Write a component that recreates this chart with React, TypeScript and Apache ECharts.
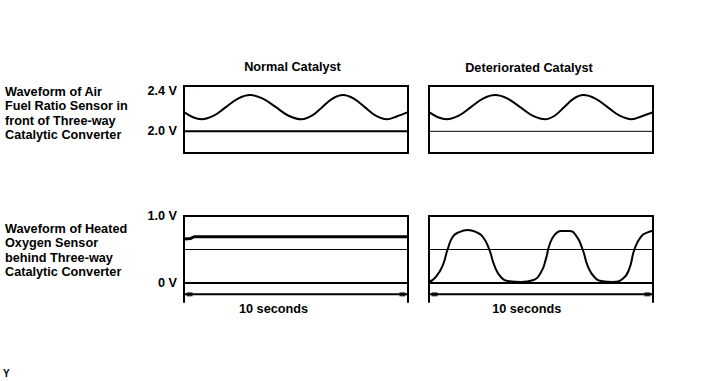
import React, { useEffect, useRef } from "react";
import * as echarts from "echarts";

// ---- texts ----
const panelTitles = ["Normal Catalyst", "Deteriorated Catalyst"];
const rowLabels = [
  "Waveform of Air\nFuel Ratio Sensor in\nfront of Three-way\nCatalytic Converter",
  "Waveform of Heated\nOxygen Sensor\nbehind Three-way\nCatalytic Converter",
];
const timeLabel = "10 seconds";
const cornerMark = "Y";

// ---- tick labels ----
const afTicks = [2.0, 2.4];
const afTickLabels = ["2.0 V", "2.4 V"];
const o2Ticks = [0, 1.0];
const o2TickLabels = ["0 V", "1.0 V"];

// ---- data (time in s, voltage in V) ----
const afNormalTime = [0, 0.4, 0.79, 1.33, 1.87, 2.41, 2.95, 3.52, 4.1, 4.67, 5.25, 5.71, 6.17, 6.63, 7.1, 7.58, 8.07, 8.56, 9.05, 9.52, 10];
const afNormalVolt = [2.19, 2.14, 2.12, 2.155, 2.24, 2.325, 2.36, 2.325, 2.24, 2.155, 2.12, 2.155, 2.24, 2.325, 2.36, 2.325, 2.24, 2.155, 2.12, 2.15, 2.19];
const afDetTime = [0, 0.4, 0.79, 1.33, 1.87, 2.41, 2.95, 3.51, 4.07, 4.62, 5.18, 5.61, 6.03, 6.46, 6.89, 7.43, 7.97, 8.51, 9.05, 9.5, 10];
const afDetVolt = [2.19, 2.14, 2.12, 2.155, 2.24, 2.325, 2.36, 2.325, 2.24, 2.155, 2.12, 2.155, 2.24, 2.325, 2.36, 2.325, 2.24, 2.155, 2.12, 2.15, 2.19];

const o2NormalTime = [0, 0.3, 0.45, 10];
const o2NormalVolt = [0.655, 0.665, 0.69, 0.69];
const o2DetTime = [0.01, 0.31, 0.61, 0.83, 1.06, 1.35, 1.73, 2.1, 2.4, 2.69, 2.92, 3.21, 3.58, 4.11, 4.63, 5.0, 5.22, 5.37, 5.59, 5.89, 6.26, 6.56, 6.86, 7.08, 7.38, 7.75, 8.2, 8.65, 8.94, 9.17, 9.46, 9.79, 10];
const o2DetVolt = [0.015, 0.09, 0.26, 0.5, 0.69, 0.76, 0.79, 0.76, 0.69, 0.5, 0.26, 0.09, 0.025, 0.015, 0.04, 0.16, 0.36, 0.56, 0.71, 0.776, 0.776, 0.71, 0.5, 0.26, 0.09, 0.025, 0.015, 0.064, 0.21, 0.5, 0.69, 0.76, 0.776];

const afRefLevel = 2.0;
const o2RefLevel = 0.5;
const spanTime = [0, 10];
const spanMarks = [0.25, 9.75];
const spanLevel = -0.17;

const FONT = '"Liberation Sans", Arial, Helvetica, sans-serif';
const FS = 12.7;

const zip = (t: number[], v: number[]) => t.map((x, i) => [x, v[i]]);
const labelFor = (ticks: number[], labels: string[]) => (val: number) => {
  const i = ticks.findIndex((t) => Math.abs(t - val) < 1e-6);
  return i >= 0 ? labels[i] : "";
};

export default function App() {
  const ref = useRef<HTMLDivElement>(null);
  useEffect(() => {
    if (!ref.current) return;
    const chart = echarts.init(ref.current, undefined, { renderer: "svg" });

    const boxW = 224;
    const lefts = [184, 429];
    const grids = [
      { left: lefts[0], top: 86, width: boxW, height: 67, show: true, borderColor: "#000", borderWidth: 2 },
      { left: lefts[1], top: 86, width: boxW, height: 67, show: true, borderColor: "#000", borderWidth: 2 },
      { left: lefts[0], top: 216, width: boxW, height: 86 },
      { left: lefts[1], top: 216, width: boxW, height: 86 },
    ];

    const hiddenX = (gi: number) => ({
      type: "value", gridIndex: gi, min: 0, max: 10,
      axisLine: { show: false }, axisTick: { show: false }, axisLabel: { show: false }, splitLine: { show: false },
    });
    const xAxes: any[] = [
      hiddenX(0),
      hiddenX(1),
      { ...hiddenX(2), axisLine: { show: true, onZero: true, lineStyle: { color: "#000", width: 2 } } },
      { ...hiddenX(3), axisLine: { show: true, onZero: true, lineStyle: { color: "#000", width: 2 } } },
      { ...hiddenX(2), position: "top", axisLine: { show: true, onZero: false, lineStyle: { color: "#000", width: 2 } } },
      { ...hiddenX(3), position: "top", axisLine: { show: true, onZero: false, lineStyle: { color: "#000", width: 2 } } },
    ];

    const afMin = 1.785, afMax = 2.45;
    const o2Min = -0.284, o2Max = 1.0;
    const labelStyle = { color: "#000", fontSize: FS, fontFamily: FONT, fontWeight: "bold", margin: 7 };
    const yAxes: any[] = [
      {
        type: "value", gridIndex: 0, min: afMin, max: afMax,
        axisLine: { show: false }, axisTick: { show: false }, splitLine: { show: false },
        axisLabel: { show: true, customValues: afTicks, formatter: labelFor(afTicks, afTickLabels), ...labelStyle },
      },
      {
        type: "value", gridIndex: 1, min: afMin, max: afMax,
        axisLine: { show: false }, axisTick: { show: false }, splitLine: { show: false }, axisLabel: { show: false },
      },
      {
        type: "value", gridIndex: 2, min: o2Min, max: o2Max,
        axisLine: { show: true, onZero: false, lineStyle: { color: "#000", width: 2 } },
        axisTick: { show: false }, splitLine: { show: false },
        axisLabel: { show: true, customValues: o2Ticks, formatter: labelFor(o2Ticks, o2TickLabels), ...labelStyle },
      },
      {
        type: "value", gridIndex: 3, min: o2Min, max: o2Max,
        axisLine: { show: true, onZero: false, lineStyle: { color: "#000", width: 2 } },
        axisTick: { show: false }, splitLine: { show: false }, axisLabel: { show: false },
      },
      {
        type: "value", gridIndex: 2, min: o2Min, max: o2Max, position: "right",
        axisLine: { show: true, onZero: false, lineStyle: { color: "#000", width: 2 } },
        axisTick: { show: false }, splitLine: { show: false }, axisLabel: { show: false },
      },
      {
        type: "value", gridIndex: 3, min: o2Min, max: o2Max, position: "right",
        axisLine: { show: true, onZero: false, lineStyle: { color: "#000", width: 2 } },
        axisTick: { show: false }, splitLine: { show: false }, axisLabel: { show: false },
      },
    ];

    const line = (xi: number, yi: number, data: number[][], width: number, smooth: any = false) => ({
      type: "line", xAxisIndex: xi, yAxisIndex: yi, data, smooth, showSymbol: false, symbol: "none",
      lineStyle: { color: "#000", width }, silent: true, z: 3,
    });
    const marks = (xi: number, yi: number) => ({
      type: "scatter", xAxisIndex: xi, yAxisIndex: yi, symbol: "rect", symbolSize: [6, 4],
      itemStyle: { color: "#000" }, data: spanMarks.map((t) => [t, spanLevel]), silent: true, z: 4,
    });

    const series: any[] = [
      line(0, 0, zip(afNormalTime, afNormalVolt), 2, 0.35),
      line(0, 0, spanTime.map((t) => [t, afRefLevel]), 2),
      line(1, 1, zip(afDetTime, afDetVolt), 2, 0.35),
      line(1, 1, spanTime.map((t) => [t, afRefLevel]), 1),
      line(2, 2, zip(o2NormalTime, o2NormalVolt), 3),
      line(2, 2, spanTime.map((t) => [t, o2RefLevel]), 1),
      line(2, 2, spanTime.map((t) => [t, spanLevel]), 2),
      marks(2, 2),
      line(3, 3, zip(o2DetTime, o2DetVolt), 2, 0.5),
      line(3, 3, spanTime.map((t) => [t, o2RefLevel]), 1),
      line(3, 3, spanTime.map((t) => [t, spanLevel]), 2),
      marks(3, 3),
    ];

    const txt = (text: string, x: number, y: number, align: string, vAlign: string, size = FS, weight = "bold", lineHeight?: number) => ({
      type: "text", x, y, silent: true,
      style: {
        text, fill: "#000", fontSize: size, fontFamily: FONT, fontWeight: weight,
        textAlign: align, align, textVerticalAlign: vAlign, verticalAlign: vAlign,
        ...(lineHeight ? { lineHeight } : {}),
      },
    });

    const graphic: any[] = [
      txt(panelTitles[0], 292.5, 67, "center", "middle"),
      txt(panelTitles[1], 529, 68, "center", "middle"),
      txt(rowLabels[0], 5, 85, "left", "top", FS, "bold", 14.2),
      txt(rowLabels[1], 5, 222, "left", "top", FS, "bold", 14.2),
      txt(timeLabel, 273.5, 308.5, "center", "middle"),
      txt(timeLabel, 526.7, 308.5, "center", "middle"),
      txt(cornerMark, 3, 373.5, "left", "middle", 10, "bold"),
    ];

    chart.setOption({
      animation: false,
      backgroundColor: "#fff",
      grid: grids,
      xAxis: xAxes,
      yAxis: yAxes,
      series,
      graphic,
    });
    return () => chart.dispose();
  }, []);

  return <div ref={ref} style={{ position: "fixed", left: 0, top: 0, width: 712, height: 381, background: "#fff" }} />;
}
